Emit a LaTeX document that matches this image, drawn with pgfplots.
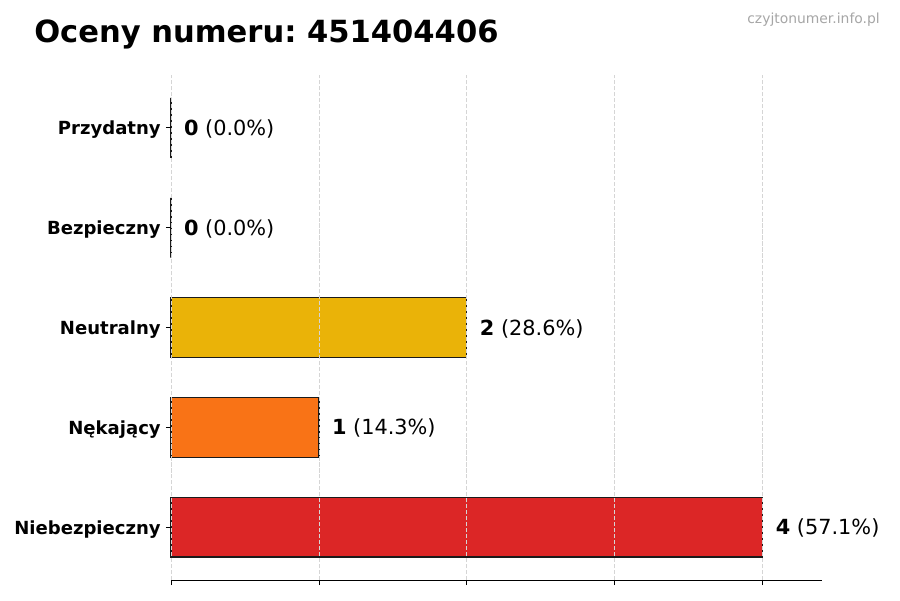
\documentclass[border=0pt]{standalone}
\usepackage{fontspec}
\setmainfont{DejaVu Sans}
\usepackage{pgfplots}
\pgfplotsset{compat=1.18}
\frenchspacing
\definecolor{cred}{HTML}{DC2626}
\definecolor{corange}{HTML}{F97316}
\definecolor{cyellow}{HTML}{EAB308}
\definecolor{cedge}{HTML}{1A1A1A}
\definecolor{cgrid}{HTML}{D5D5D5}
\begin{document}
\begin{tikzpicture}
\begin{axis}[
  at={(0,0)}, anchor=south west,
  scale only axis,
  width=468.72pt, height=363.6pt,
  xbar, bar width=0.6, bar shift=0pt,
  xmin=0, xmax=4.4, ymin=-0.53, ymax=4.53,
  axis x line*=bottom, axis y line*=left,
  y axis line style={draw=none},
  x axis line style={line width=0.7pt, -},
  xtick={0,1,2,3,4}, xticklabels={},
  ytick={0,1,2,3,4},
  yticklabels={Niebezpieczny,Nękający,Neutralny,Bezpieczny,Przydatny},
  yticklabel style={font=\bfseries\fontsize{13}{15}\selectfont, inner sep=0pt, xshift=-3.6pt, yshift=-1.5pt},
  tick align=outside,
  major tick length=3.6pt,
  tick style={line width=0.6pt, black},
  xmajorgrids,
  grid style={cgrid, line width=0.6pt, dash pattern=on 3pt off 1.3pt},
  axis on top,
  nodes near coords,
  point meta=explicit symbolic,
  nodes near coords style={anchor=west, inner sep=0pt, xshift=9pt, yshift=-0.8pt, font=\fontsize{15}{18}\selectfont, black},
  clip=false,
]
\addplot[fill=cred, draw=cedge, line width=0.8pt] coordinates {(4,0) [\textbf{4} (57.1\%)]};
\addplot[fill=corange, draw=cedge, line width=0.8pt] coordinates {(1,1) [\textbf{1} (14.3\%)]};
\addplot[fill=cyellow, draw=cedge, line width=0.8pt] coordinates {(2,2) [\textbf{2} (28.6\%)]};
\addplot[fill=cgrid, draw=cedge, line width=0.8pt] coordinates {(0,3) [\textbf{0} (0.0\%)]};
\addplot[fill=cgrid, draw=cedge, line width=0.8pt] coordinates {(0,4) [\textbf{0} (0.0\%)]};
\end{axis}
\node[anchor=base west, inner sep=0pt, font=\bfseries\fontsize{22}{26}\selectfont] at (-98.64pt,387.3pt) {Oceny numeru: 451404406};
\node[anchor=base east, inner sep=0pt, font=\fontsize{10}{12}\selectfont, text=black!35] at (510.48pt,401.0pt) {czyjtonumer.info.pl};
\path (-123.12pt,-14.4pt) rectangle (524.88pt,417.6pt);
\end{tikzpicture}
\end{document}
